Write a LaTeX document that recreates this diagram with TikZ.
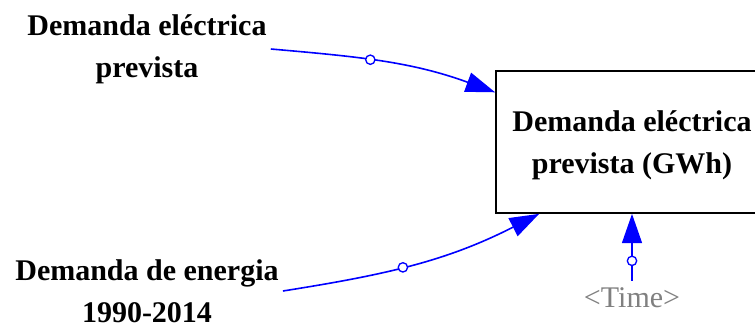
\documentclass[tikz,border=0pt]{standalone}
\usepackage{fontspec}
\setmainfont{Liberation Serif}
\usetikzlibrary{arrows.meta}
\definecolor{linkblue}{RGB}{0,0,255}
\definecolor{ghostgrey}{RGB}{128,128,128}
\tikzstyle{var} = [align=center, inner sep=3pt, font=\bfseries\fontsize{22.5}{31.5}\selectfont]
\tikzstyle{stock} = [var, rectangle, draw=black, line width=1.3pt, minimum width=204pt, minimum height=106.5pt, text depth=0pt]
\tikzstyle{ghost} = [text=ghostgrey, inner sep=5pt, font=\fontsize{22.5}{31.5}\selectfont]
\tikzstyle{link} = [linkblue, line width=1.2pt, -{Triangle[length=22pt,width=15pt]}]
\tikzstyle{hole} = [circle, draw=linkblue, fill=white, line width=1pt, inner sep=0pt, minimum size=7pt]

\begin{document}
\begin{tikzpicture}[x=0.75pt, y=0.75pt, node distance=181.5pt]
\clip (0,0) rectangle (755,325);
\node (prev) [var] at (147,276) {Demanda eléctrica\\prevista};
\node (hist) [var, below of=prev] {Demanda de energia\\1990-2014};
\node (dem) [stock] at (632,183) {Demanda eléctrica\\prevista (GWh)};
\node (time) [ghost, below of=dem, node distance=117pt] {<Time>};

\draw [link] (prev.east) to[out=-5, in=160] node[hole, pos=0.43] (h1) {} (dem);
\draw [link] (hist.east) to[out=9, in=207] node[hole, pos=0.45] (h2) {} ([xshift=33pt]dem.south west);
\draw [link] (time) -- node[hole, pos=0.3] (h3) {} (dem);
\end{tikzpicture}
\end{document}
